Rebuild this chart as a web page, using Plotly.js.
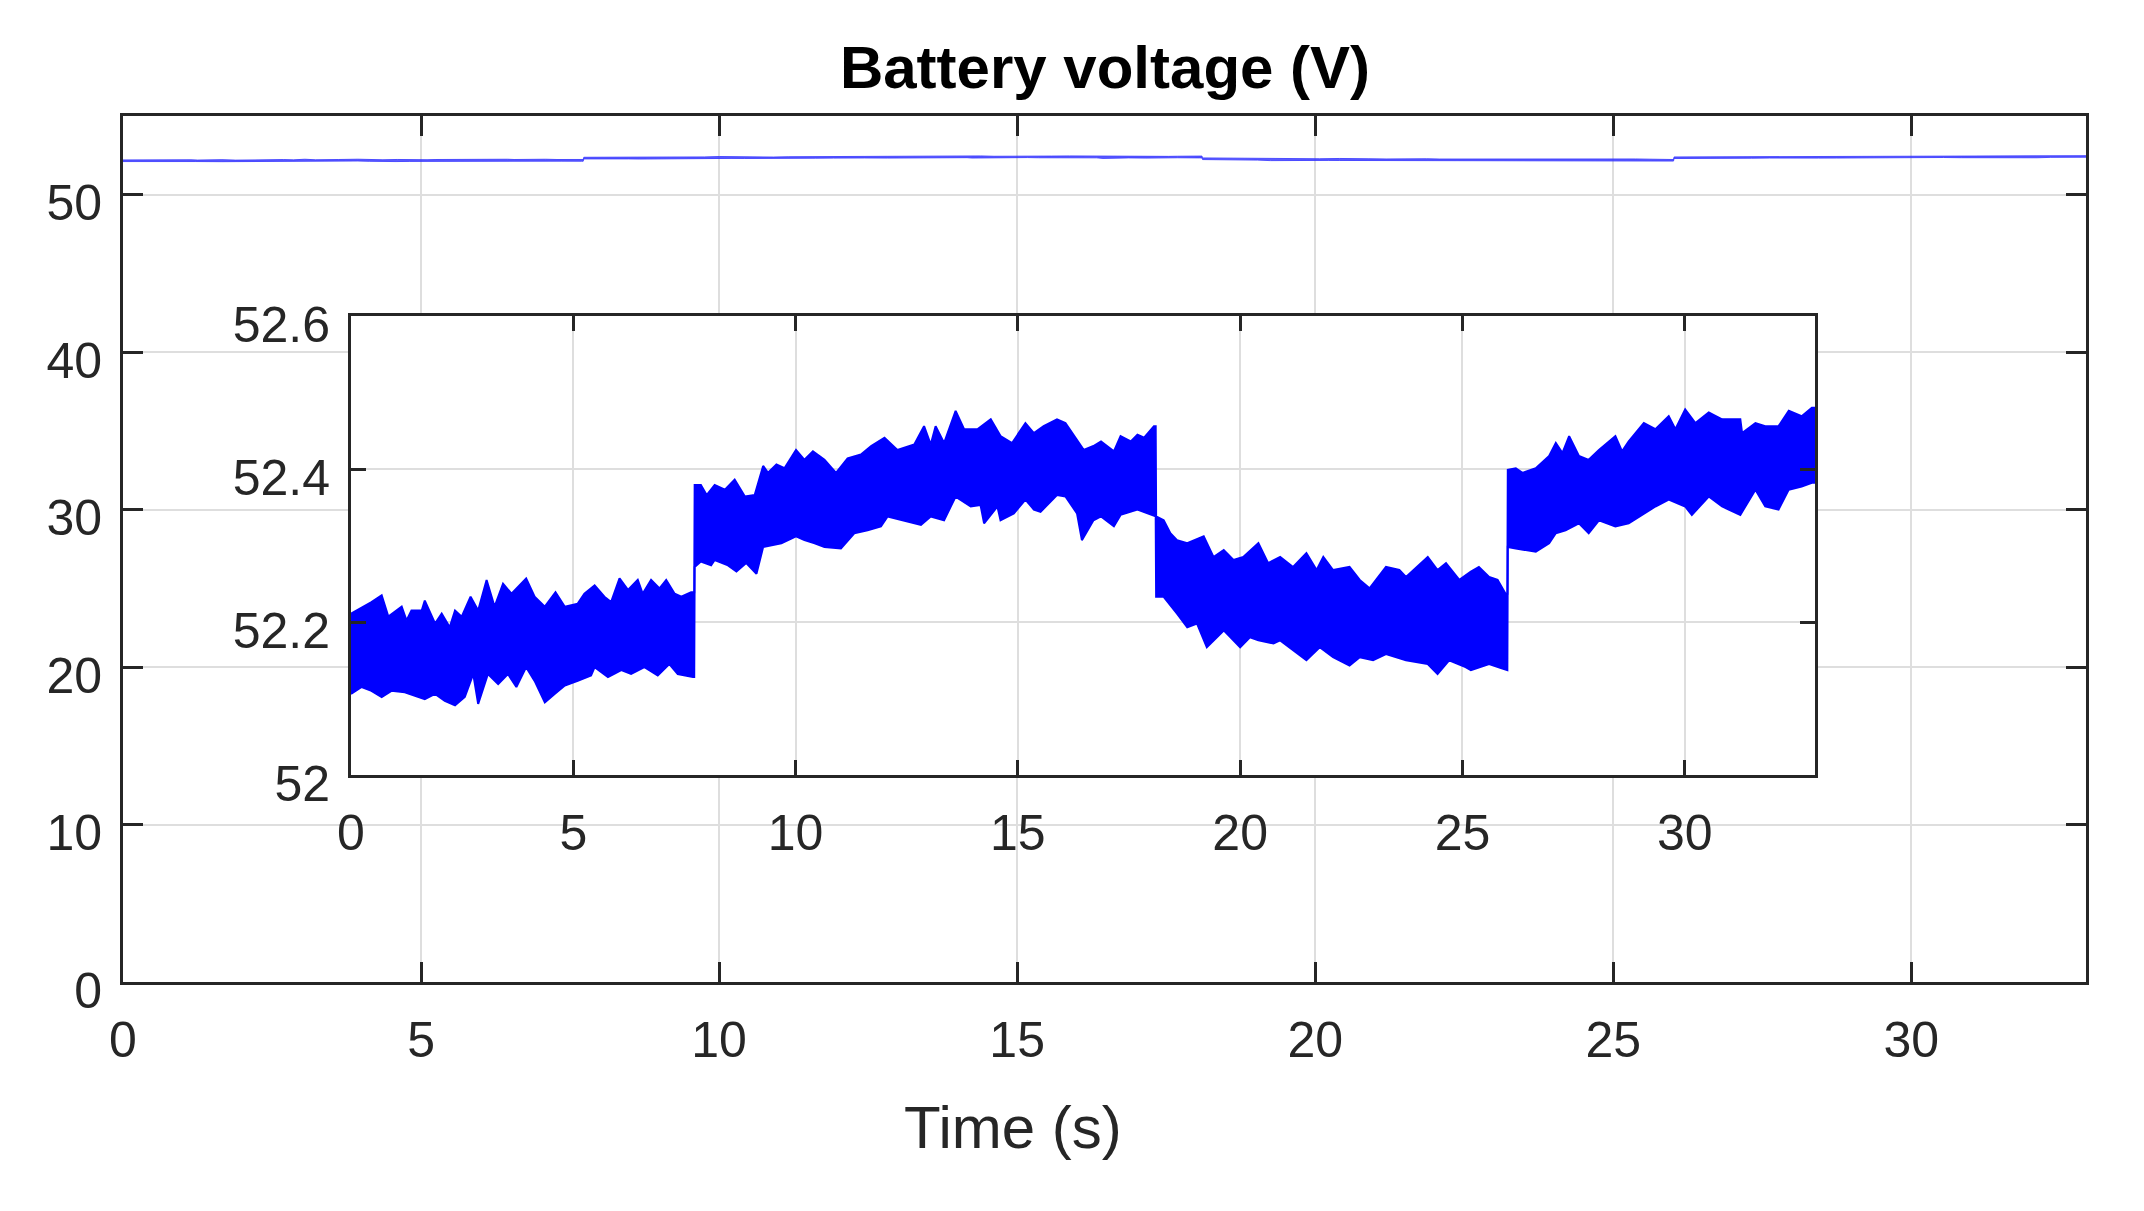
<!DOCTYPE html>
<html>
<head>
<meta charset="utf-8">
<script src="https://cdn.plot.ly/plotly-3.0.1.min.js"></script>
<style>html,body{margin:0;padding:0;background:#fff;}#chart{width:2144px;height:1211px;}</style>
</head>
<body>
<div id="chart"></div>
<script>
// Tick values / labels
const mainXTicks = [0, 5, 10, 15, 20, 25, 30];
const mainYTicks = [0, 10, 20, 30, 40, 50];
const insetXTicks = [0, 5, 10, 15, 20, 25, 30];
const insetYTicks = [52, 52.2, 52.4, 52.6];
const insetYLabels = ['52', '52.2', '52.4', '52.6'];

// Battery voltage (V) vs time (s): upper edge of the noisy band
const upperEdge = [
  [0, 52.211], [0.46, 52.226], [0.69, 52.235], [0.84, 52.207], [1.14, 52.220], [1.25, 52.202], [1.36, 52.215],
  [1.59, 52.215], [1.66, 52.228], [1.89, 52.198], [2.04, 52.211], [2.22, 52.193], [2.34, 52.215], [2.49, 52.207],
  [2.69, 52.233], [2.86, 52.215], [3.05, 52.255], [3.23, 52.220], [3.42, 52.250], [3.61, 52.237], [3.94, 52.257],
  [4.13, 52.233], [4.36, 52.220], [4.60, 52.239], [4.81, 52.220], [5.10, 52.224], [5.25, 52.237], [5.48, 52.248],
  [5.70, 52.233], [5.85, 52.226], [6.04, 52.257], [6.23, 52.242], [6.45, 52.255], [6.56, 52.237], [6.75, 52.255],
  [6.94, 52.244], [7.09, 52.255], [7.28, 52.237], [7.43, 52.233], [7.65, 52.239], [7.72, 52.239],
  [7.73, 52.379], [7.87, 52.379], [8.00, 52.366], [8.18, 52.379], [8.41, 52.373], [8.63, 52.386], [8.86, 52.364],
  [9.08, 52.366], [9.27, 52.404], [9.38, 52.395], [9.57, 52.406], [9.75, 52.401], [10.01, 52.425], [10.20, 52.412],
  [10.39, 52.423], [10.65, 52.412], [10.91, 52.395], [11.17, 52.414], [11.47, 52.419], [11.70, 52.430], [12.00, 52.441],
  [12.29, 52.425], [12.67, 52.432], [12.89, 52.456], [13.04, 52.432], [13.15, 52.456], [13.34, 52.434], [13.60, 52.476],
  [13.79, 52.452], [14.09, 52.452], [14.39, 52.465], [14.61, 52.443], [14.87, 52.434], [15.17, 52.460], [15.36, 52.447],
  [15.58, 52.456], [15.88, 52.465], [16.07, 52.460], [16.26, 52.443], [16.48, 52.425], [16.70, 52.430], [16.87, 52.436],
  [17.16, 52.423], [17.31, 52.443], [17.54, 52.436], [17.69, 52.445], [17.84, 52.441], [18.06, 52.456], [18.10, 52.456],
  [18.11, 52.338], [18.28, 52.333], [18.43, 52.316], [18.58, 52.307], [18.81, 52.303], [19.18, 52.312], [19.40, 52.285],
  [19.63, 52.294], [19.85, 52.281], [20.07, 52.285], [20.41, 52.303], [20.63, 52.277], [20.90, 52.285], [21.19, 52.272],
  [21.49, 52.290], [21.72, 52.268], [21.87, 52.285], [22.09, 52.268], [22.46, 52.272], [22.69, 52.255], [22.91, 52.244],
  [23.28, 52.272], [23.58, 52.268], [23.73, 52.259], [24.22, 52.285], [24.44, 52.268], [24.63, 52.277], [24.93, 52.255],
  [25.19, 52.266], [25.37, 52.272], [25.60, 52.259], [25.79, 52.255], [25.97, 52.237], [26.01, 52.237],
  [26.02, 52.399], [26.20, 52.401], [26.35, 52.395], [26.65, 52.401], [26.95, 52.417], [27.10, 52.434], [27.25, 52.421],
  [27.40, 52.443], [27.62, 52.417], [27.84, 52.412], [28.07, 52.425], [28.44, 52.443], [28.59, 52.423], [28.74, 52.436],
  [29.08, 52.460], [29.34, 52.452], [29.64, 52.469], [29.79, 52.452], [30.01, 52.478], [30.24, 52.460], [30.54, 52.474],
  [30.84, 52.465], [31.25, 52.465], [31.29, 52.447], [31.59, 52.460], [31.81, 52.456], [32.11, 52.456], [32.34, 52.476],
  [32.63, 52.469], [32.86, 52.480], [32.93, 52.480]
];

// lower edge of the noisy band
const lowerEdge = [
  [0, 52.106], [0.24, 52.115], [0.46, 52.110], [0.69, 52.102], [0.91, 52.110], [1.21, 52.108], [1.66, 52.099],
  [1.89, 52.106], [2.11, 52.097], [2.34, 52.091], [2.56, 52.102], [2.75, 52.132], [2.86, 52.093], [3.08, 52.132],
  [3.31, 52.119], [3.53, 52.132], [3.72, 52.115], [3.94, 52.141], [4.13, 52.123], [4.36, 52.095], [4.58, 52.106],
  [4.81, 52.117], [5.10, 52.123], [5.40, 52.130], [5.48, 52.141], [5.78, 52.128], [6.08, 52.137], [6.30, 52.132],
  [6.60, 52.141], [6.90, 52.130], [7.16, 52.145], [7.35, 52.132], [7.69, 52.128], [7.72, 52.128],
  [7.73, 52.272], [7.87, 52.279], [8.10, 52.274], [8.18, 52.281], [8.48, 52.274], [8.67, 52.266], [8.89, 52.277],
  [9.12, 52.263], [9.27, 52.298], [9.68, 52.303], [10.01, 52.312], [10.20, 52.307], [10.43, 52.303], [10.65, 52.298],
  [11.02, 52.296], [11.32, 52.316], [11.62, 52.320], [11.92, 52.325], [12.07, 52.338], [12.44, 52.333], [12.82, 52.327],
  [13.04, 52.338], [13.34, 52.333], [13.60, 52.364], [13.94, 52.351], [14.16, 52.353], [14.24, 52.329], [14.54, 52.351],
  [14.61, 52.333], [14.91, 52.342], [15.17, 52.360], [15.36, 52.347], [15.51, 52.344], [15.88, 52.366], [16.07, 52.364],
  [16.33, 52.342], [16.44, 52.307], [16.70, 52.333], [16.87, 52.338], [17.16, 52.325], [17.31, 52.340], [17.69, 52.347],
  [18.06, 52.338], [18.10, 52.338],
  [18.11, 52.233], [18.28, 52.233], [18.58, 52.211], [18.81, 52.193], [19.03, 52.198], [19.25, 52.167], [19.63, 52.189],
  [20.00, 52.167], [20.22, 52.180], [20.41, 52.176], [20.75, 52.172], [20.90, 52.176], [21.49, 52.150], [21.79, 52.167],
  [22.09, 52.154], [22.46, 52.143], [22.69, 52.154], [22.99, 52.150], [23.28, 52.158], [23.73, 52.150], [24.22, 52.145],
  [24.44, 52.132], [24.70, 52.150], [25.07, 52.141], [25.19, 52.137], [25.60, 52.145], [25.90, 52.139], [26.01, 52.137],
  [26.02, 52.298], [26.20, 52.296], [26.65, 52.292], [26.95, 52.303], [27.10, 52.316], [27.32, 52.320], [27.62, 52.329],
  [27.84, 52.316], [28.07, 52.333], [28.44, 52.325], [28.74, 52.329], [29.08, 52.342], [29.34, 52.351], [29.64, 52.360],
  [30.01, 52.351], [30.16, 52.340], [30.54, 52.364], [30.84, 52.351], [31.25, 52.340], [31.59, 52.373], [31.81, 52.351],
  [32.11, 52.347], [32.34, 52.373], [32.63, 52.377], [32.86, 52.382], [32.93, 52.382]
];

const tUp = upperEdge.map(p => p[0]), vUp = upperEdge.map(p => p[1]);
const tLo = lowerEdge.map(p => p[0]), vLo = lowerEdge.map(p => p[1]);

const BLUE = '#0000ff';
const INK = '#262626';
const GRID = '#dedede';

function band(xa, ya, color, lw) {
  return [
    {x: tLo, y: vLo, xaxis: xa, yaxis: ya, type: 'scatter', mode: 'lines',
     line: {color: color, width: lw}, hoverinfo: 'skip'},
    {x: tUp, y: vUp, xaxis: xa, yaxis: ya, type: 'scatter', mode: 'lines', fill: 'tonexty',
     fillcolor: color, line: {color: color, width: lw}, hoverinfo: 'skip'}
  ];
}

const data = [].concat(band('x', 'y', 'rgba(50,50,255,0.8)', 1), band('x2', 'y2', BLUE, 2));

function axisBase(extra) {
  return Object.assign({
    showline: true, linecolor: INK, linewidth: 3, mirror: 'ticks',
    ticks: 'inside', tickcolor: INK, tickwidth: 3,
    showgrid: true, gridcolor: GRID, gridwidth: 2, zeroline: false,
    tickfont: {family: 'Liberation Sans, Arial, sans-serif', size: 50, color: INK},
    fixedrange: true
  }, extra);
}

const W = 2144, H = 1211;
const layout = {
  width: W, height: H,
  margin: {l: 0, r: 0, t: 0, b: 0},
  paper_bgcolor: '#ffffff', plot_bgcolor: '#ffffff',
  showlegend: false,
  font: {family: 'Liberation Sans, Arial, sans-serif', color: INK},
  title: {text: 'Battery voltage (V)', font: {family: 'Liberation Sans, Arial, sans-serif', size: 60, weight: 'bold', color: '#000000'},
          x: 1105 / W, xanchor: 'center', y: 1 - 67 / H, yanchor: 'middle'},
  xaxis: axisBase({domain: [123 / W, 2086 / W], range: [0, 32.93], tickvals: mainXTicks,
                   ticklen: 20, ticklabelstandoff: 12, anchor: 'y'}),
  yaxis: axisBase({domain: [229 / H, 1095 / H], range: [0, 55], tickvals: mainYTicks,
                   ticklen: 20, ticklabelstandoff: 8, ticklabelshift: 8, anchor: 'x'}),
  xaxis2: axisBase({domain: [351 / W, 1815 / W], range: [0, 32.93], tickvals: insetXTicks,
                    ticklen: 15, ticklabelstandoff: 12, anchor: 'y2'}),
  yaxis2: axisBase({domain: [436 / H, 895 / H], range: [52, 52.6], tickvals: insetYTicks, ticktext: insetYLabels,
                    ticklen: 15, ticklabelstandoff: 8, ticklabelshift: 8, anchor: 'x2'}),
  annotations: [
    {text: 'Time (s)', xref: 'paper', yref: 'paper', x: 1013 / W, y: 1 - 1127 / H,
     xanchor: 'center', yanchor: 'middle', showarrow: false,
     font: {family: 'Liberation Sans, Arial, sans-serif', size: 60, color: INK}}
  ]
};

Plotly.newPlot('chart', data, layout, {displayModeBar: false, staticPlot: true});
</script>
</body>
</html>
